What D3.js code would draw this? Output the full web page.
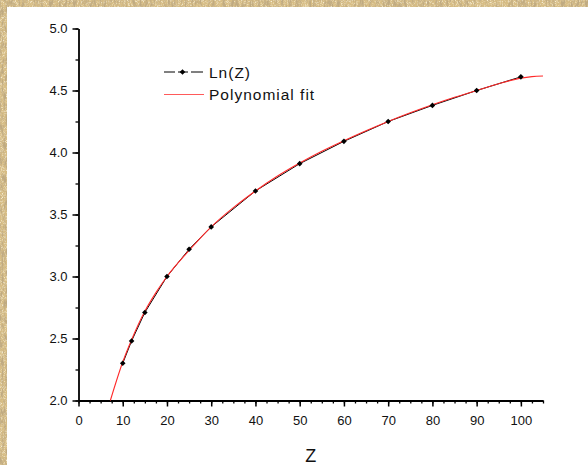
<!DOCTYPE html>
<html>
<head>
<meta charset="utf-8">
<script src="https://cdn.jsdelivr.net/npm/d3@7/dist/d3.min.js"></script>
<style>
  html, body { margin: 0; padding: 0; background: #d6bd86; }
  svg { display: block; }
  text { font-family: "Liberation Sans", Arial, sans-serif; fill: #111; }
</style>
</head>
<body>
<svg id="chart" width="588" height="465"></svg>
<script>
// Measured ln(Z) points
const zValues = [10, 12, 15, 20, 25, 30, 40, 50, 60, 70, 80, 90, 100];
const lnValues = [2.30, 2.48, 2.71, 3.00, 3.22, 3.40, 3.69, 3.91, 4.09, 4.25, 4.38, 4.50, 4.61];

// Polynomial fit curve, sampled along Z
const fitZ = [7.2, 10, 12, 15, 17.5, 20, 25, 30, 35, 40, 45, 50, 55, 60, 65, 70, 75, 80, 85, 90, 95, 100, 102.5, 105];
const fitY = [2.00, 2.31, 2.49, 2.72, 2.87, 3.00, 3.21, 3.40, 3.555, 3.69, 3.81, 3.915, 4.01, 4.095, 4.175, 4.25, 4.32, 4.385, 4.445, 4.50, 4.555, 4.60, 4.612, 4.617];

const xTicks = [0, 10, 20, 30, 40, 50, 60, 70, 80, 90, 100];
const yTicks = [2.0, 2.5, 3.0, 3.5, 4.0, 4.5, 5.0];
const legendLabels = ["Ln(Z)", "Polynomial fit"];
const xTitle = "Z";

const svg = d3.select("#chart");
const W = 588, H = 465;

// Parchment backdrop with grain and streaks
const defs = svg.append("defs");
const grain = defs.append("filter").attr("id", "grain")
  .attr("x", 0).attr("y", 0).attr("width", "100%").attr("height", "100%");
grain.append("feTurbulence")
  .attr("type", "fractalNoise").attr("baseFrequency", "0.5 0.12")
  .attr("numOctaves", 4).attr("seed", 11).attr("result", "noise");
grain.append("feColorMatrix").attr("in", "noise").attr("type", "matrix")
  .attr("values", "0 0 0 0 0.52  0 0 0 0 0.40  0 0 0 0 0.22  3.2 0 0 0 -1.35")
  .attr("result", "tint");
grain.append("feComposite").attr("in", "tint").attr("in2", "SourceGraphic").attr("operator", "in");

const speck = defs.append("filter").attr("id", "speck")
  .attr("x", 0).attr("y", 0).attr("width", "100%").attr("height", "100%");
speck.append("feTurbulence")
  .attr("type", "fractalNoise").attr("baseFrequency", "1.2")
  .attr("numOctaves", 2).attr("seed", 3).attr("result", "noise");
speck.append("feColorMatrix").attr("in", "noise").attr("type", "matrix")
  .attr("values", "0 0 0 0 0.93  0 0 0 0 0.86  0 0 0 0 0.68  0 2.6 0 0 -1.2")
  .attr("result", "tint");
speck.append("feComposite").attr("in", "tint").attr("in2", "SourceGraphic").attr("operator", "in");

svg.append("rect").attr("width", W).attr("height", H).attr("fill", "#d7bd85");
svg.append("rect").attr("width", W).attr("height", H).attr("fill", "#d7bd85").attr("filter", "url(#speck)");
svg.append("rect").attr("width", W).attr("height", H).attr("fill", "#d7bd85").attr("filter", "url(#grain)");

// White chart panel
svg.append("rect").attr("x", 7).attr("y", 7).attr("width", W - 7).attr("height", H - 7).attr("fill", "#ffffff");

const x = d3.scaleLinear().domain([0, 105]).range([78.5, 543]);
const y = d3.scaleLinear().domain([2.0, 5.0]).range([400.5, 28.5]);

// Axes: minor ticks first, then major
const xMinor = d3.range(0, 105.01, 2.5);
const yMinor = d3.range(2.0, 5.001, 0.25);

svg.append("g").attr("transform", `translate(0,${y(2)})`)
  .call(d3.axisBottom(x).tickValues(xMinor).tickSize(3).tickFormat(""))
  .call(g => g.select(".domain").remove())
  .call(g => g.selectAll("line").attr("stroke", "#000").attr("stroke-width", 1.3));

svg.append("g").attr("transform", `translate(${x(0)},0)`)
  .call(d3.axisLeft(y).tickValues(yMinor).tickSize(3).tickFormat(""))
  .call(g => g.select(".domain").remove())
  .call(g => g.selectAll("line").attr("stroke", "#000").attr("stroke-width", 1.3));

const xAxis = svg.append("g").attr("transform", `translate(0,${y(2)})`)
  .call(d3.axisBottom(x).tickValues(xTicks).tickSize(6).tickSizeOuter(0).tickPadding(9).tickFormat(d3.format("d")));
const yAxis = svg.append("g").attr("transform", `translate(${x(0)},0)`)
  .call(d3.axisLeft(y).tickValues(yTicks).tickSize(6).tickSizeOuter(0).tickPadding(5).tickFormat(d3.format(".1f")));

[xAxis, yAxis].forEach(g => {
  g.select(".domain").attr("stroke", "#000").attr("stroke-width", 1.8);
  g.selectAll(".tick line").attr("stroke", "#000").attr("stroke-width", 1.5);
  g.selectAll(".tick text").attr("font-family", "'Liberation Sans', Arial, sans-serif")
    .attr("font-size", 13).attr("fill", "#222");
});

// Axis title
svg.append("text").attr("x", x(52.5)).attr("y", 462).attr("text-anchor", "middle")
  .attr("font-size", 18).text(xTitle);

// Data line and markers
const dataPts = zValues.map((z, i) => [z, lnValues[i]]);
const line = d3.line().x(d => x(d[0])).y(d => y(d[1]));
svg.append("path").datum(dataPts).attr("d", line)
  .attr("fill", "none").attr("stroke", "#000").attr("stroke-width", 1);

// Fit curve
const fitPts = fitZ.map((z, i) => [z, fitY[i]]);
svg.append("path").datum(fitPts).attr("d", d3.line().x(d => x(d[0])).y(d => y(d[1])).curve(d3.curveMonotoneX))
  .attr("fill", "none").attr("stroke", "#ff2a2a").attr("stroke-width", 1.1);

const diamond = d3.symbol().type(d3.symbolDiamond2).size(20);
svg.append("g").selectAll("path").data(dataPts).join("path")
  .attr("transform", d => `translate(${x(d[0])},${y(d[1])})`)
  .attr("d", diamond).attr("fill", "#000");

// Legend
const lg = svg.append("g");
lg.append("line").attr("x1", 164).attr("x2", 203).attr("y1", 72).attr("y2", 72)
  .attr("stroke", "#000").attr("stroke-width", 1);
lg.append("rect").attr("x", 175).attr("y", 70).attr("width", 3).attr("height", 4).attr("fill", "#fff");
lg.append("rect").attr("x", 188).attr("y", 70).attr("width", 3).attr("height", 4).attr("fill", "#fff");
lg.append("path").attr("transform", "translate(182.5,72)").attr("d", diamond).attr("fill", "#000");
lg.append("line").attr("x1", 164).attr("x2", 204).attr("y1", 94.5).attr("y2", 94.5)
  .attr("stroke", "#ff5a5a").attr("stroke-width", 1.2);
lg.selectAll("text").data(legendLabels).join("text")
  .attr("x", 209).attr("y", (d, i) => 78 + i * 22)
  .attr("font-size", 15.5).attr("letter-spacing", 1.0).text(d => d);
</script>
</body>
</html>
